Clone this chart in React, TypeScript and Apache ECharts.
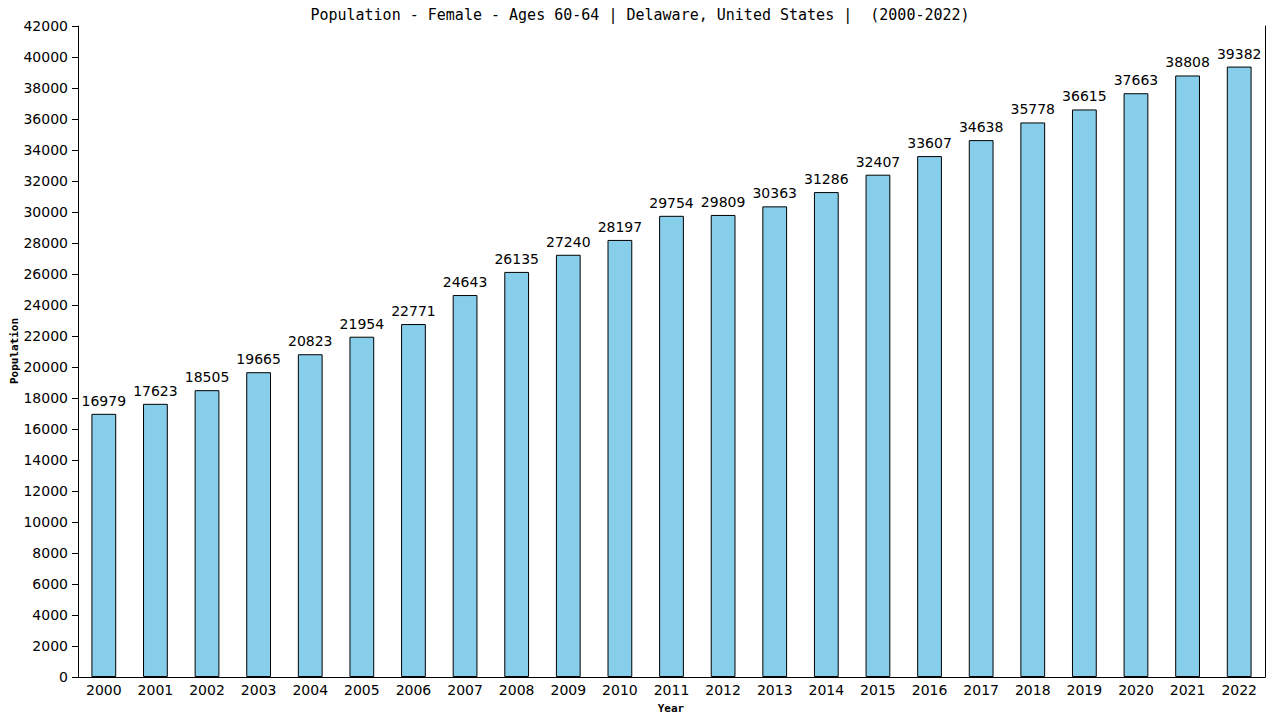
import { useEffect, useRef } from 'react';
import * as echarts from 'echarts';

const years = [
  '2000', '2001', '2002', '2003', '2004', '2005', '2006', '2007', '2008', '2009', '2010', '2011',
  '2012', '2013', '2014', '2015', '2016', '2017', '2018', '2019', '2020', '2021', '2022',
];
const population = [
  16979, 17623, 18505, 19665, 20823, 21954, 22771, 24643, 26135, 27240, 28197, 29754,
  29809, 30363, 31286, 32407, 33607, 34638, 35778, 36615, 37663, 38808, 39382,
];

const TITLE = 'Population - Female - Ages 60-64 | Delaware, United States |  (2000-2022)';
const SANS = '"DejaVu Sans", Verdana, sans-serif';
const MONO = '"DejaVu Sans Mono", "Liberation Mono", monospace';

export default function App() {
  const ref = useRef<HTMLDivElement>(null);

  useEffect(() => {
    const dom = ref.current!;
    const chart = echarts.init(dom, undefined, { renderer: 'svg' });

    // axis names drawn as graphics so echarts does not push them around
    const nameStyle = { fontFamily: MONO, fontSize: 11, fontWeight: 'bold', fill: '#000' };

    chart.setOption({
      animation: false,
      backgroundColor: '#ffffff',
      title: {
        text: TITLE,
        left: 'center',
        top: 2,
        textStyle: { fontFamily: MONO, fontSize: 15, fontWeight: 'normal', color: '#000' },
      },
      grid: { left: 78, right: 15, top: 26, bottom: 43, outerBoundsMode: 'none', containLabel: false },
      graphic: [
        {
          type: 'text',
          x: 14,
          y: 351,
          rotation: Math.PI / 2,
          style: { ...nameStyle, text: 'Population', align: 'center', verticalAlign: 'middle' },
        },
        {
          type: 'text',
          x: 671,
          y: 708,
          style: { ...nameStyle, text: 'Year', align: 'center', verticalAlign: 'middle' },
        },
      ],
      xAxis: {
        type: 'category',
        data: years,
        axisLine: { lineStyle: { color: '#000', width: 1 } },
        axisTick: { show: false },
        axisLabel: { fontFamily: SANS, fontSize: 14, color: '#000', margin: 6, interval: 0 },
      },
      yAxis: [
        {
          type: 'value',
          min: 0,
          max: 42000,
          interval: 2000,
          axisLine: { show: true, lineStyle: { color: '#000', width: 1 } },
          axisTick: { show: true, length: 6, lineStyle: { color: '#000' } },
          axisLabel: {
            fontFamily: SANS,
            fontSize: 14,
            color: '#000',
            margin: 10,
            formatter: (v: number) => String(v),
          },
          splitLine: { show: false },
        },
        {
          type: 'value',
          position: 'right',
          min: 0,
          max: 42000,
          interval: 2000,
          axisLine: { show: true, lineStyle: { color: '#000', width: 1 } },
          axisTick: { show: false },
          axisLabel: { show: false },
          splitLine: { show: false },
        },
      ],
      series: [
        {
          type: 'bar',
          data: population,
          barWidth: '48%',
          itemStyle: { color: '#87ceeb', borderColor: '#000', borderWidth: 1 },
          label: {
            show: true,
            position: 'top',
            distance: 6,
            fontFamily: SANS,
            fontSize: 14,
            color: '#000',
          },
        },
      ],
    });

    return () => chart.dispose();
  }, []);

  return <div ref={ref} style={{ width: 1280, height: 720, margin: -8 }} />;
}
